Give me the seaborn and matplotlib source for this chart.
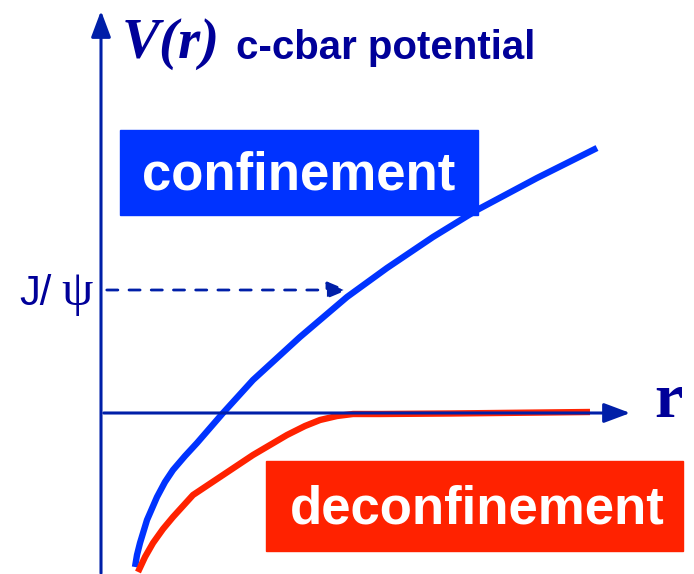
import numpy as np
import pandas as pd
import seaborn as sns
import matplotlib.pyplot as plt
from matplotlib.patches import Rectangle

# curves (pixel coordinates, y downwards)
conf_x = [135, 137, 140, 147, 157, 165, 173, 185, 197, 223, 253, 300, 347, 387, 433, 477, 537, 597]
conf_y = [567, 555, 543, 520, 497, 482, 470, 456, 443, 413, 380, 337, 297, 268, 237, 210, 178, 148]
deconf_x = [138, 145, 153, 163, 173, 193, 220, 253, 287, 305, 320, 337, 353, 380, 450, 590]
deconf_y = [572, 557, 543, 529, 517, 495, 477, 455, 435, 426, 420, 416, 414, 414, 413.5, 412]

jpsi_level = 290
r_axis_y = 413
v_axis_x = 101

conf = pd.DataFrame({"x": conf_x, "y": conf_y})
deconf = pd.DataFrame({"x": deconf_x, "y": deconf_y})

sns.set_style("white")
navy = "#001fa8"
text_navy = "#000099"

fig = plt.figure(figsize=(6.94, 5.74), dpi=100)
ax = fig.add_axes([0, 0, 1, 1])
ax.set_xlim(0, 694)
ax.set_ylim(574, 0)
ax.axis("off")

# axes arrows
ax.annotate("", xy=(v_axis_x, 8), xytext=(v_axis_x, 576),
            arrowprops=dict(arrowstyle="-|>,head_length=1.6,head_width=0.6", color=navy, lw=2.2))
ax.annotate("", xy=(633, r_axis_y), xytext=(v_axis_x, r_axis_y),
            arrowprops=dict(arrowstyle="-|>,head_length=1.6,head_width=0.6", color=navy, lw=2.2))

# J/psi dashed arrow
ax.annotate("", xy=(350, jpsi_level), xytext=(v_axis_x + 3, jpsi_level),
            arrowprops=dict(arrowstyle="-|>,head_length=1.2,head_width=0.5", color=navy,
                            lw=2, linestyle=(0, (4, 4))))

sns.lineplot(data=conf, x="x", y="y", sort=False, ax=ax, color="#0033ff", lw=4.6,
             solid_capstyle="butt", solid_joinstyle="round")
sns.lineplot(data=deconf, x="x", y="y", sort=False, ax=ax, color="#ff2200", lw=4.6,
             solid_capstyle="butt", solid_joinstyle="round")

# boxes
ax.add_patch(Rectangle((120, 130), 358, 85, color="#0033ff", zorder=3))
ax.text(299, 176, "confinement", color="white", fontsize=38, fontweight="bold",
        family="Liberation Sans", ha="center", va="center", zorder=4)
ax.add_patch(Rectangle((266, 461), 417, 90, color="#ff2200", zorder=3))
ax.text(477, 510, "deconfinement", color="white", fontsize=38, fontweight="bold",
        family="Liberation Sans", ha="center", va="center", zorder=4)

# labels
ax.text(122, 44, "V(r)", color=text_navy, fontsize=41, fontweight="bold", fontstyle="italic",
        family="Liberation Serif", ha="left", va="center")
ax.text(236, 48, "c-cbar potential", color=text_navy, fontsize=29, fontweight="bold",
        family="Liberation Sans", ha="left", va="center")
ax.text(668, 402, "r", color=text_navy, fontsize=46, fontweight="bold",
        family="Liberation Serif", ha="center", va="center")
ax.text(19, 305, "J/", color=text_navy, fontsize=30,
        family="Liberation Sans", ha="left", va="baseline")
ax.text(93, 305, "\u03c8", color=text_navy, fontsize=36,
        family="Liberation Serif", ha="right", va="baseline")

fig.savefig("out.png", dpi=100)
